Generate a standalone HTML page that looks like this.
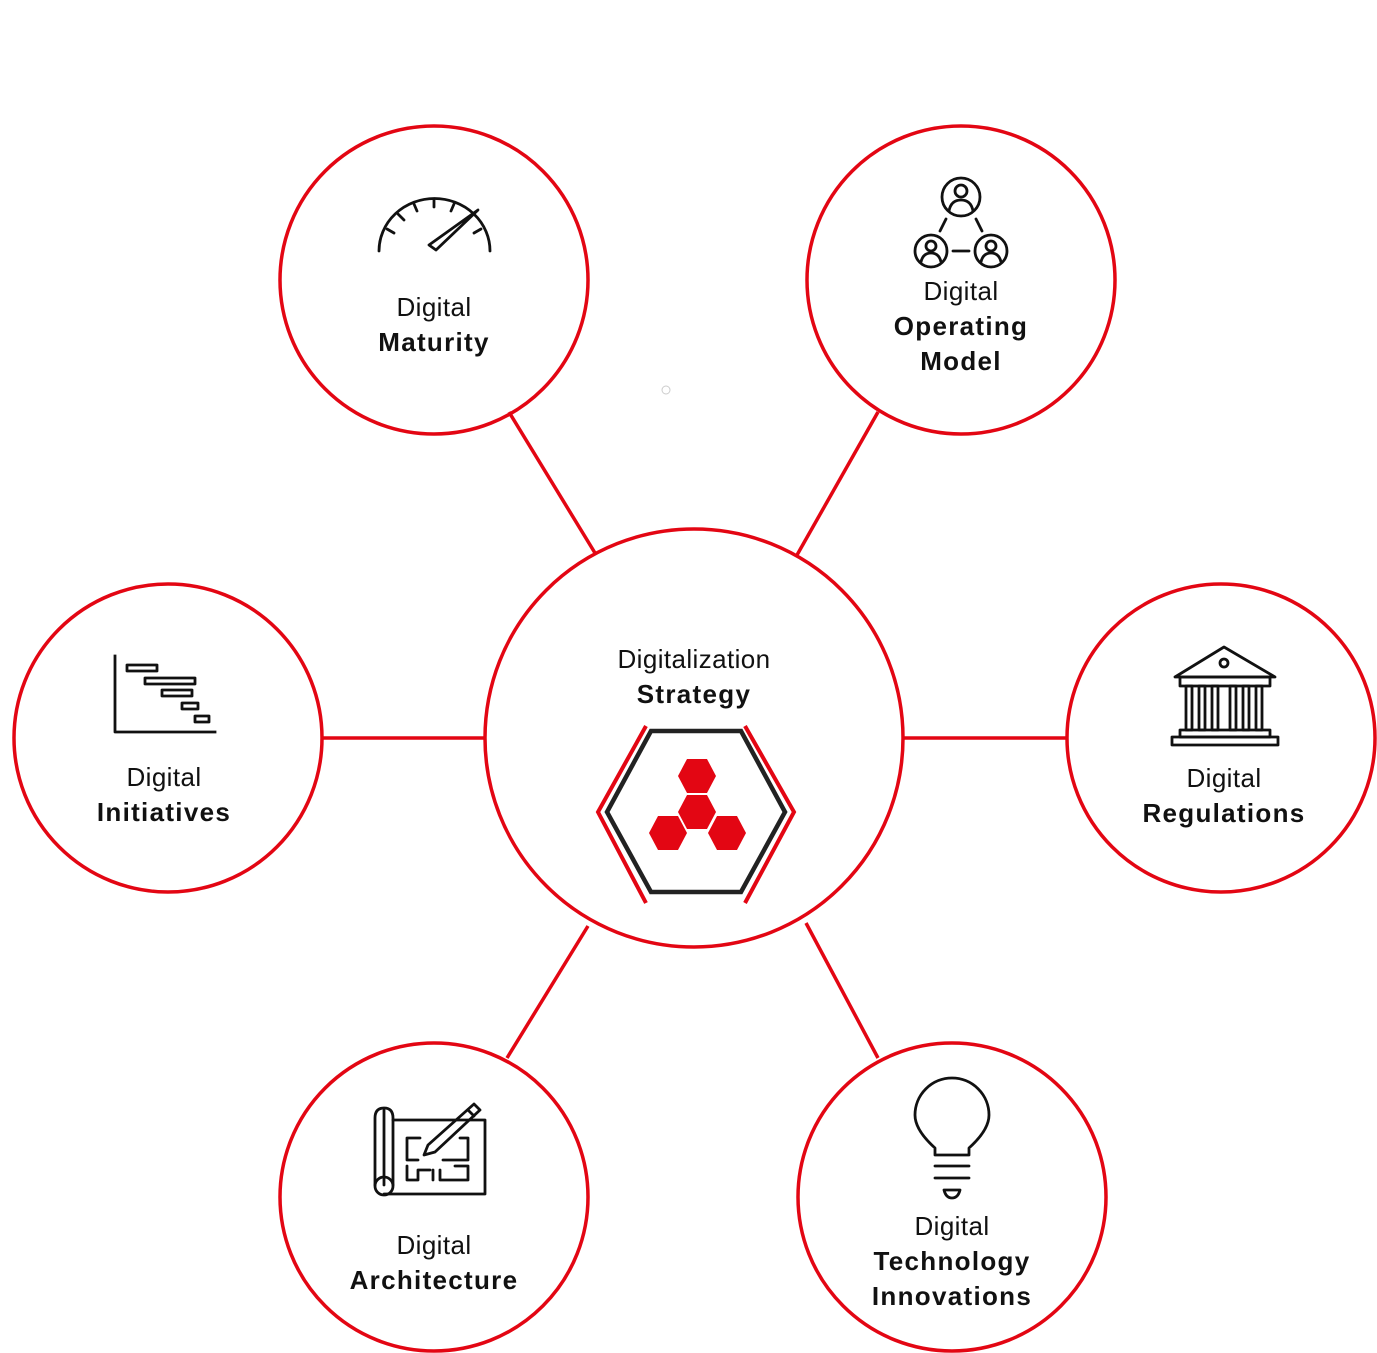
<!DOCTYPE html>
<html><head><style>
html,body{margin:0;padding:0;background:#fff;}
svg{display:block;}
text{font-family:"Liberation Sans","DejaVu Sans",sans-serif;font-size:26px;fill:#111;text-anchor:middle;letter-spacing:0.4px;}
.b{font-weight:bold;letter-spacing:1.3px;}
</style></head><body>
<svg width="1377" height="1353" viewBox="0 0 1377 1353" xmlns="http://www.w3.org/2000/svg">
<g stroke="#e30613" stroke-width="3.5" fill="none">
<line x1="509" y1="412" x2="595" y2="553"/>
<line x1="878" y1="412" x2="797" y2="555"/>
<line x1="323" y1="738" x2="486" y2="738"/>
<line x1="903" y1="738" x2="1066" y2="738"/>
<line x1="588" y1="926" x2="507" y2="1058"/>
<line x1="806" y1="923" x2="878" y2="1058"/>
<circle cx="434" cy="280" r="154"/>
<circle cx="961" cy="280" r="154"/>
<circle cx="168" cy="738" r="154"/>
<circle cx="1221" cy="738" r="154"/>
<circle cx="434" cy="1197" r="154"/>
<circle cx="952" cy="1197" r="154"/>
<circle cx="694" cy="738" r="209"/>
<polyline points="646,726 598,812 646,903" stroke-width="4"/>
<polyline points="745,726 794,812 745,903" stroke-width="4"/>
</g>
<polygon points="651,731 741,731 785,812 741,892 651,892 607,812" fill="none" stroke="#222" stroke-width="4.5"/>
<g fill="#e30613">
<polygon points="687,759 707,759 716,776 707,793 687,793 678,776"/>
<polygon points="687,795 707,795 716,812 707,829 687,829 678,812"/>
<polygon points="658,816 678,816 687,833 678,850 658,850 649,833"/>
<polygon points="717,816 737,816 746,833 737,850 717,850 708,833"/>
</g>
<circle cx="666" cy="390" r="4" fill="none" stroke="#ccc" stroke-width="1"/>
<text x="694" y="668">Digitalization</text><text x="694" y="703" class="b">Strategy</text>
<text x="434" y="316">Digital</text><text x="434" y="351" class="b">Maturity</text>
<text x="961" y="300">Digital</text><text x="961" y="335" class="b">Operating</text><text x="961" y="370" class="b">Model</text>
<text x="164" y="786">Digital</text><text x="164" y="821" class="b">Initiatives</text>
<text x="1224" y="787">Digital</text><text x="1224" y="822" class="b">Regulations</text>
<text x="434" y="1254">Digital</text><text x="434" y="1289" class="b">Architecture</text>
<text x="952" y="1235">Digital</text><text x="952" y="1270" class="b">Technology</text><text x="952" y="1305" class="b">Innovations</text>
<g stroke="#111" stroke-width="2.8" fill="none" stroke-linecap="round" stroke-linejoin="round">
<path d="M379,251 A55,52 0 0 1 490,251"/>
<line x1="387" y1="229" x2="394" y2="233"/><line x1="398" y1="214" x2="404" y2="220"/><line x1="414" y1="204" x2="417" y2="211"/><line x1="434" y1="200" x2="434" y2="207"/><line x1="454" y1="204" x2="451" y2="211"/><line x1="481" y1="229" x2="474" y2="233"/>
<path d="M478,210 L436,250 L429,245 Z"/>
<circle cx="961" cy="197" r="19"/><circle cx="961" cy="191" r="6"/><path d="M949,211 Q951,200 961,200 Q971,200 973,211"/>
<circle cx="931" cy="251" r="16"/><circle cx="931" cy="246" r="5"/><path d="M921,262 Q923,253 931,253 Q939,253 941,262"/>
<circle cx="991" cy="251" r="16"/><circle cx="991" cy="246" r="5"/><path d="M981,262 Q983,253 991,253 Q999,253 1001,262"/>
<line x1="946" y1="219" x2="940" y2="231"/><line x1="976" y1="219" x2="982" y2="231"/><line x1="953" y1="251" x2="969" y2="251"/>
<polyline points="115,656 115,732 215,732" stroke-linecap="square"/>
<rect x="127" y="665" width="30" height="6"/><rect x="145" y="678" width="50" height="6"/><rect x="162" y="690" width="30" height="6"/><rect x="182" y="703" width="16" height="6"/><rect x="195" y="716" width="14" height="6"/>
<polygon points="1224,647 1175,677 1275,677"/><circle cx="1224" cy="663" r="4"/>
<rect x="1180" y="677" width="90" height="9"/>
<rect x="1186" y="686" width="6" height="44"/><rect x="1199" y="686" width="6" height="44"/><rect x="1212" y="686" width="6" height="44"/><rect x="1230" y="686" width="6" height="44"/><rect x="1243" y="686" width="6" height="44"/><rect x="1256" y="686" width="6" height="44"/>
<rect x="1180" y="730" width="90" height="7"/><rect x="1172" y="737" width="106" height="8"/>
<path d="M384,1110 L384,1185"/><path d="M375,1185 L375,1118 Q375,1108 384,1108 Q393,1108 393,1118 L393,1185"/><circle cx="384" cy="1186" r="9"/>
<polyline points="393,1120 485,1120 485,1194 384,1194"/>
<polyline points="420,1138 407,1138 407,1160 418,1160"/><polyline points="407,1166 407,1180 418,1180 418,1170 430,1170"/><polyline points="443,1160 468,1160 468,1138 460,1138"/><polyline points="440,1170 440,1180 468,1180 468,1166 455,1166"/><line x1="433" y1="1170" x2="433" y2="1180"/>
<path d="M474,1104 L480,1110 L435,1152 L424,1155 L428,1145 Z"/><line x1="468" y1="1110" x2="474" y2="1116"/>
<path d="M935,1155 L935,1148 Q915,1130 915,1115 A37,37 0 0 1 989,1115 Q989,1130 969,1148 L969,1155 Z"/>
<line x1="935" y1="1166" x2="969" y2="1166"/><line x1="935" y1="1178" x2="969" y2="1178"/><path d="M944,1190 L960,1190 Q958,1198 952,1198 Q946,1198 944,1190"/>
</g>
</svg>
</body></html>
